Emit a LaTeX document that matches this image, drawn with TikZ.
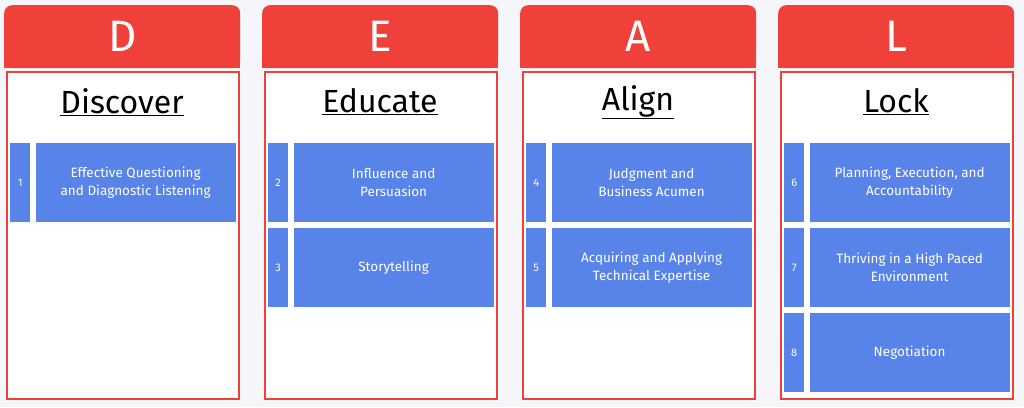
\documentclass[tikz,border=0pt]{standalone}
\usepackage{fontspec}
\setmainfont{Fira Sans}
\usetikzlibrary{positioning}
\definecolor{dealred}{HTML}{EF4039}
\definecolor{dealblue}{HTML}{5883E8}
\definecolor{pagebg}{HTML}{F4F6FA}
\tikzstyle{header} = [draw=none, fill=dealred, rounded corners=8pt, minimum width=236pt, minimum height=63pt, text=white, font=\fontsize{44}{44}\selectfont, inner sep=0pt]
\tikzstyle{panel} = [draw=dealred, line width=2pt, fill=white, minimum width=232pt, minimum height=327pt, inner sep=0pt]
\tikzstyle{title} = [font=\fontsize{32}{32}\selectfont, inner sep=0pt]
\tikzstyle{numbox} = [fill=dealblue, minimum width=20pt, minimum height=79pt, text=white, font=\fontsize{11}{13}\selectfont, inner sep=0pt]
\tikzstyle{skill} = [fill=dealblue, minimum width=200pt, minimum height=79pt, text=white, align=center, font=\fontsize{13.5}{18}\selectfont, inner sep=0pt]
\begin{document}
\begin{tikzpicture}[x=1pt, y=-1pt]
		\fill[pagebg] (0,0) rectangle (1024,407);
		\useasboundingbox (0,0) rectangle (1024,407);
		\foreach \i/\letter/\word in {0/D/Discover, 1/E/Educate, 2/A/Align, 3/L/Lock} {
			\node (head\i) [header, anchor=north west] at (4+258*\i, 5) {\letter};
			\fill[dealred] (4+258*\i, 58) rectangle (240+258*\i, 68);
			\node (panel\i) [panel, anchor=north west] at (6+258*\i, 71) {};
			\node (title\i) [title] at (122+258*\i, 102) {\underline{\word}};
		}
		% skill rows
		\foreach \i/\r/\n/\txt in {0/0/1/{Effective Questioning\\and Diagnostic Listening},
			1/0/2/{Influence and\\Persuasion}, 1/1/3/{Storytelling},
			2/0/4/{Judgment and\\Business Acumen}, 2/1/5/{Acquiring and Applying\\Technical Expertise},
			3/0/6/{Planning, Execution, and\\Accountability}, 3/1/7/{Thriving in a High Paced\\Environment}, 3/2/8/{Negotiation}} {
			\node (num\n) [numbox, anchor=north west] at (10+258*\i, 143+85*\r) {\n};
			\node (skill\n) [skill, right=5pt of num\n] {\txt};
		}
		\end{tikzpicture}
\end{document}
